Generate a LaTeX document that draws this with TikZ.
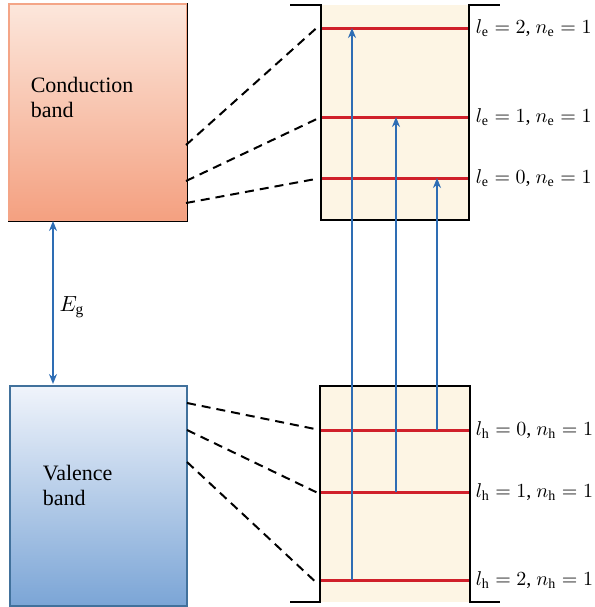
\documentclass[tikz,border=0pt]{standalone}
\usepackage{fontspec}
\setmainfont{Liberation Serif}
\usepackage{xcolor}
\usepackage{tikz}
\usetikzlibrary{arrows.meta}

\definecolor{cbtop}{HTML}{FCE7DC}
\definecolor{cbbot}{HTML}{F4A080}
\definecolor{cbline}{HTML}{F4A587}
\definecolor{vbtop}{HTML}{F0F4FB}
\definecolor{vbbot}{HTML}{7BA5D6}
\definecolor{vbline}{HTML}{41719C}
\definecolor{wellfill}{HTML}{FDF5E4}
\definecolor{levelred}{HTML}{D0202A}
\definecolor{arrowblue}{HTML}{2E6DB4}

\begin{document}
\begin{tikzpicture}[
    x=0.5pt, y=-0.5pt,
    font=\fontsize{11}{12.5}\selectfont,
    >=Stealth, thick,
    band/.style={inner sep=0pt, anchor=north west, line width=0.8pt},
    bandtext/.style={anchor=west, align=left, inner sep=0pt},
    wall/.style={black, line width=1pt},
    level/.style={levelred, line width=1.5pt},
    trans/.style={-{Stealth[length=5pt, width=4pt]}, arrowblue, line width=1pt},
    link/.style={dashed, dash pattern=on 4.5pt off 3pt, line width=1pt, shorten >=2pt},
    lvlabel/.style={anchor=west, inner sep=0pt, font=\normalsize}
]
\useasboundingbox (0,0) rectangle (595,607);

% bands
\node[band, draw=cbline, top color=cbtop, bottom color=cbbot,
      minimum width=89pt, minimum height=108.5pt] (cb) at (8,3) {};
\draw[line width=0.8pt] (cb.north east) -- (cb.south east) -- (cb.south west);
\node[bandtext] (cbtext) at (30,97) {Conduction\\band};

\node[band, draw=vbline, top color=vbtop, bottom color=vbbot,
      minimum width=88.5pt, minimum height=110pt] (vb) at (9,385) {};
\node[bandtext] (vbtext) at (42,485) {Valence\\band};

% band gap
\coordinate (egtop) at (53,221);
\coordinate (egbot) at (53,384);
\draw[{Stealth[length=5pt, width=4pt]}-{Stealth[length=5pt, width=4pt]}, arrowblue, line width=1pt] (egtop) -- (egbot);
\node (eg) at (72,307) {$E_{\mathrm{g}}$};

% wells
\fill[wellfill] (321,5) rectangle (469,220);
\fill[wellfill] (320,386) rectangle (470,602);

% electron levels
\coordinate (e2l) at (321,28);  \coordinate (e2r) at (469,28);
\coordinate (e1l) at (321,117); \coordinate (e1r) at (469,117);
\coordinate (e0l) at (321,178); \coordinate (e0r) at (469,178);
\draw[level] (e2l) -- (e2r);
\draw[level] (e1l) -- (e1r);
\draw[level] (e0l) -- (e0r);

% hole levels
\coordinate (h0l) at (320,430); \coordinate (h0r) at (470,430);
\coordinate (h1l) at (320,492); \coordinate (h1r) at (470,492);
\coordinate (h2l) at (320,580); \coordinate (h2r) at (470,580);
\draw[level] (h0l) -- (h0r);
\draw[level] (h1l) -- (h1r);
\draw[level] (h2l) -- (h2r);

\draw[wall] (290,5) -- (321,5) -- (321,220) -- (469,220) -- (469,5) -- (500,5);
\draw[wall] (290,602) -- (320,602) -- (320,386) -- (470,386) -- (470,602) -- (500,602);

% transitions
\coordinate (t2a) at (352,580); \coordinate (t2b) at (352,28);
\coordinate (t1a) at (396,492); \coordinate (t1b) at (396,117);
\coordinate (t0a) at (437,430); \coordinate (t0b) at (437,178);
\draw[trans] (t2a) -- (t2b);
\draw[trans] (t1a) -- (t1b);
\draw[trans] (t0a) -- (t0b);

% labels
\node[lvlabel] (le2) at ([xshift=3pt]e2r) {$l_{\mathrm{e}} = 2$, $n_{\mathrm{e}} = 1$};
\node[lvlabel] (le1) at ([xshift=3pt]e1r) {$l_{\mathrm{e}} = 1$, $n_{\mathrm{e}} = 1$};
\node[lvlabel] (le0) at ([xshift=3pt]e0r) {$l_{\mathrm{e}} = 0$, $n_{\mathrm{e}} = 1$};
\node[lvlabel] (lh0) at ([xshift=2.5pt]h0r) {$l_{\mathrm{h}} = 0$, $n_{\mathrm{h}} = 1$};
\node[lvlabel] (lh1) at ([xshift=2.5pt]h1r) {$l_{\mathrm{h}} = 1$, $n_{\mathrm{h}} = 1$};
\node[lvlabel] (lh2) at ([xshift=2.5pt]h2r) {$l_{\mathrm{h}} = 2$, $n_{\mathrm{h}} = 1$};

% dashed links
\coordinate (c2) at (186,145); \coordinate (c1) at (186,181); \coordinate (c0) at (186,203);
\coordinate (v0) at (187,403); \coordinate (v1) at (187,430); \coordinate (v2) at (187,462);
\draw[link] (c2) -- ([yshift=2pt]e2l);
\draw[link] (c1) -- (e1l);
\draw[link] (c0) -- (e0l);
\draw[link] (v0) -- (h0l);
\draw[link] (v1) -- ([yshift=-1pt]h1l);
\draw[link] (v2) -- ([yshift=-3pt]h2l);

\end{tikzpicture}
\end{document}
